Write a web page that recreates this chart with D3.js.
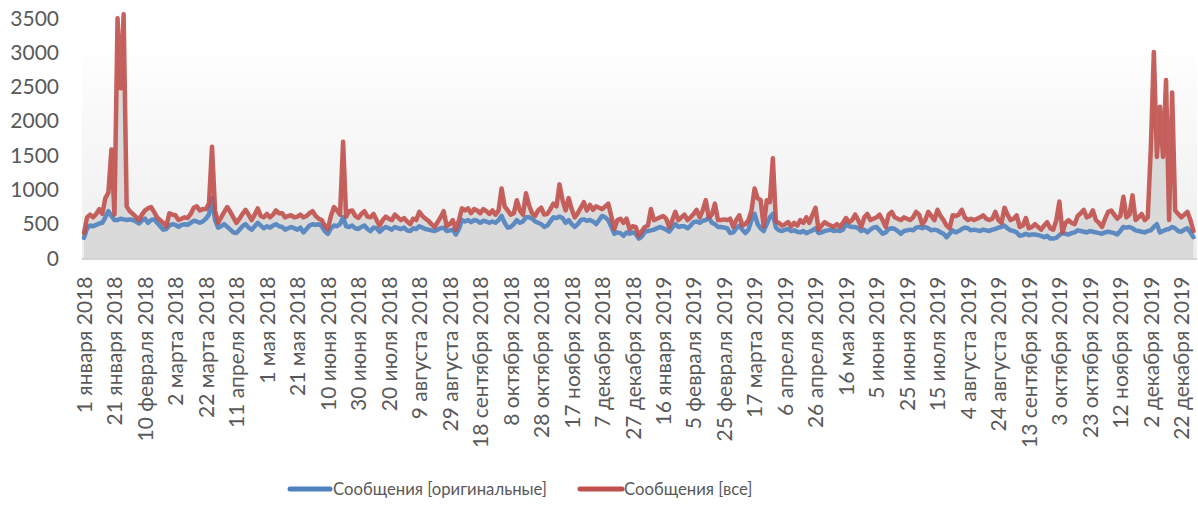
<!DOCTYPE html>
<html><head><meta charset="utf-8">
<script src="https://cdn.jsdelivr.net/npm/d3@7"></script>
<style>
body{margin:0;background:#fff}
svg{display:block}
text{font-family:Lato,"Noto Sans",sans-serif;fill:#595959}
</style>
</head><body>
<svg id="chart" width="1198" height="511"></svg>
<script>
const startDate = new Date(Date.UTC(2018, 0, 1));
const endDate = new Date(Date.UTC(2019, 11, 31));
const stepDays = 2;
const tickStepDays = 20;
const seriesNames = ["Сообщения [оригинальные]", "Сообщения [все]"];
const seriesColors = ["#4f81bd", "#c0504d"];

const originalMessages = [
300,440,480,470,490,510,520,600,690,620,
560,560,580,570,560,570,560,540,510,550,
580,520,560,570,520,470,420,430,480,500,
490,460,490,500,490,520,550,540,520,540,
580,640,880,560,450,470,500,460,420,380,
370,420,470,500,450,420,470,520,480,440,
470,450,480,500,470,460,420,440,460,440,
420,450,380,430,480,500,490,500,470,400,
360,440,480,470,500,600,470,460,480,440,
430,460,480,430,400,450,440,390,430,460,
440,420,460,440,430,450,410,400,440,430,
470,450,430,420,410,400,420,440,450,400,
410,420,350,430,560,540,560,530,560,550,
520,550,540,520,540,520,560,620,520,450,
460,500,560,520,540,600,600,580,540,520,
500,460,480,540,600,590,610,590,520,560,
500,460,500,560,570,550,560,540,500,560,
620,600,560,460,360,380,370,330,380,360,
380,360,290,320,390,400,410,420,440,460,
440,420,390,450,500,460,470,470,440,480,
530,540,520,550,560,600,520,500,460,460,
450,440,370,380,440,480,420,370,420,560,
650,500,440,400,500,600,650,450,410,400,
420,430,400,410,390,380,400,370,390,410,
440,370,380,400,410,420,400,410,400,420,
500,470,460,460,440,400,420,380,420,450,
460,410,360,380,430,440,430,400,360,400,
410,420,410,450,460,440,460,440,410,420,
410,380,360,310,360,410,380,400,430,450,
440,410,420,410,400,420,410,400,420,430,
450,460,480,440,410,400,380,330,340,360,
340,350,350,340,330,310,330,290,290,300,
340,370,360,350,370,380,410,400,390,380,
400,390,380,370,360,380,390,380,370,350,
400,460,450,460,440,410,400,390,380,400,
410,460,500,380,400,420,430,460,440,400,
390,420,440,380,310
];

const allMessages = [
370,600,640,600,650,720,650,880,960,1590,
640,3500,2480,3560,760,690,650,610,560,640,
700,730,750,680,600,560,520,470,660,640,
630,560,580,600,590,650,740,760,700,720,
720,800,1630,700,520,600,680,750,680,600,
520,580,650,710,640,560,640,730,620,600,
650,600,640,700,660,660,600,620,630,600,
610,640,600,620,660,690,620,580,560,480,
430,620,750,700,640,1700,610,690,700,620,
590,650,690,610,600,650,560,480,560,610,
580,560,640,600,560,590,540,500,580,560,
680,620,580,550,500,460,530,600,690,470,
500,560,420,560,730,700,730,660,720,700,
660,720,690,650,700,640,700,1020,760,700,
640,660,850,700,640,950,780,660,620,700,
740,640,650,720,800,760,1080,850,700,880,
720,600,660,740,820,700,780,710,760,740,
720,760,800,620,430,560,580,520,580,430,
470,460,330,400,460,480,720,560,580,600,
620,580,460,560,680,560,600,640,560,600,
650,710,600,700,850,600,640,800,560,560,
570,560,580,460,560,630,480,500,560,700,
1020,880,850,470,850,820,1460,540,520,480,
500,530,470,520,480,560,520,600,520,640,
740,420,480,530,500,480,460,500,460,520,
590,530,560,640,560,460,600,650,560,580,
600,640,560,460,640,680,600,580,560,600,
580,560,600,680,640,500,560,680,620,560,
710,620,560,480,440,630,620,640,710,600,
560,580,560,580,600,630,580,560,580,680,
560,520,740,640,560,580,630,460,480,590,
440,460,500,460,420,480,530,440,420,560,
830,380,520,560,520,500,620,660,710,600,
620,700,560,520,460,580,680,700,640,580,
620,900,600,640,920,560,600,650,560,600,
1600,3010,1480,2210,1480,2600,560,2420,700,650,
600,640,680,560,400
];

const tickLabels = [
"1 января 2018","21 января 2018","10 февраля 2018","2 марта 2018","22 марта 2018",
"11 апреля 2018","1 мая 2018","21 мая 2018","10 июня 2018","30 июня 2018",
"20 июля 2018","9 августа 2018","29 августа 2018","18 сентября 2018","8 октября 2018",
"28 октября 2018","17 ноября 2018","7 декабря 2018","27 декабря 2018","16 января 2019",
"5 февраля 2019","25 февраля 2019","17 марта 2019","6 апреля 2019","26 апреля 2019",
"16 мая 2019","5 июня 2019","25 июня 2019","15 июля 2019","4 августа 2019",
"24 августа 2019","13 сентября 2019","3 октября 2019","23 октября 2019","12 ноября 2019",
"2 декабря 2019","22 декабря 2019"
];

const yTickValues = [0, 500, 1000, 1500, 2000, 2500, 3000, 3500];

const data = originalMessages.map((v, i) => ({
  date: d3.utcDay.offset(startDate, i * stepDays),
  orig: v,
  all: allMessages[i]
}));
const tickDates = tickLabels.map((_, i) => d3.utcDay.offset(startDate, i * tickStepDays));

const svg = d3.select("#chart");
const x = d3.scaleUtc().domain([startDate, endDate]).range([84, 1195]);
const y = d3.scaleLinear().domain([0, 3500]).range([258.5, 18.3]);

const defs = svg.append("defs");
const grad = defs.append("linearGradient").attr("id", "bg").attr("x1", 0).attr("y1", 0).attr("x2", 0).attr("y2", 1);
grad.append("stop").attr("offset", "0%").attr("stop-color", "#ffffff");
grad.append("stop").attr("offset", "12%").attr("stop-color", "#ffffff");
grad.append("stop").attr("offset", "100%").attr("stop-color", "#eeeeee");

svg.append("rect").attr("x", 82).attr("y", 8).attr("width", 1197 - 82).attr("height", y(0) - 8).attr("fill", "url(#bg)");

svg.append("path").datum(data)
  .attr("fill", "#dadada")
  .attr("d", d3.area().x(d => x(d.date)).y0(y(0)).y1(d => y(d.all)));

svg.append("line").attr("x1", 82).attr("x2", 1197).attr("y1", y(0) + 0.5).attr("y2", y(0) + 0.5)
  .attr("stroke", "#c9c9c9").attr("stroke-width", 1.5);

const lineOrig = d3.line().x(d => x(d.date)).y(d => y(d.orig));
const lineAll = d3.line().x(d => x(d.date)).y(d => y(d.all));

svg.append("path").datum(data).attr("fill", "none").attr("stroke", seriesColors[0])
  .attr("stroke-width", 4.5).attr("stroke-opacity", 0.9).attr("stroke-linejoin", "round").attr("stroke-linecap", "round")
  .attr("d", lineOrig);
svg.append("path").datum(data).attr("fill", "none").attr("stroke", seriesColors[1])
  .attr("stroke-width", 4.5).attr("stroke-opacity", 0.9).attr("stroke-linejoin", "round").attr("stroke-linecap", "round")
  .attr("d", lineAll);

// Y axis
const yAxis = svg.append("g").attr("transform", "translate(59,0)")
  .call(d3.axisLeft(y).tickValues(yTickValues).tickFormat(d3.format("d")).tickSize(0).tickPadding(0));
yAxis.select(".domain").remove();
yAxis.selectAll("text").attr("font-size", 21).attr("font-family", "Lato,'Noto Sans',sans-serif").attr("fill", "#595959").attr("x", 0);

// X axis
const xAxis = svg.append("g").attr("transform", `translate(0,${y(0)})`)
  .call(d3.axisBottom(x).tickValues(tickDates).tickFormat((d, i) => tickLabels[i]).tickSize(0));
xAxis.select(".domain").remove();
xAxis.selectAll("text")
  .attr("font-size", 21).attr("font-family", "Lato,'Noto Sans',sans-serif").attr("fill", "#595959")
  .attr("text-anchor", "end").attr("transform", "rotate(-90)")
  .attr("x", -18).attr("y", 0).attr("dy", "0.35em");

// Legend
const legendItems = [
  {name: seriesNames[0], color: seriesColors[0], x1: 290, x2: 330, tx: 333},
  {name: seriesNames[1], color: seriesColors[1], x1: 580, x2: 622, tx: 624}
];
const lg = svg.append("g");
legendItems.forEach(it => {
  lg.append("line").attr("x1", it.x1).attr("x2", it.x2).attr("y1", 489).attr("y2", 489)
    .attr("stroke", it.color).attr("stroke-width", 5).attr("stroke-linecap", "round");
  lg.append("text").attr("x", it.tx).attr("y", 489).attr("dy", "0.35em")
    .attr("font-size", 16.7).attr("fill", "#595959").text(it.name);
});
</script>
</body></html>
